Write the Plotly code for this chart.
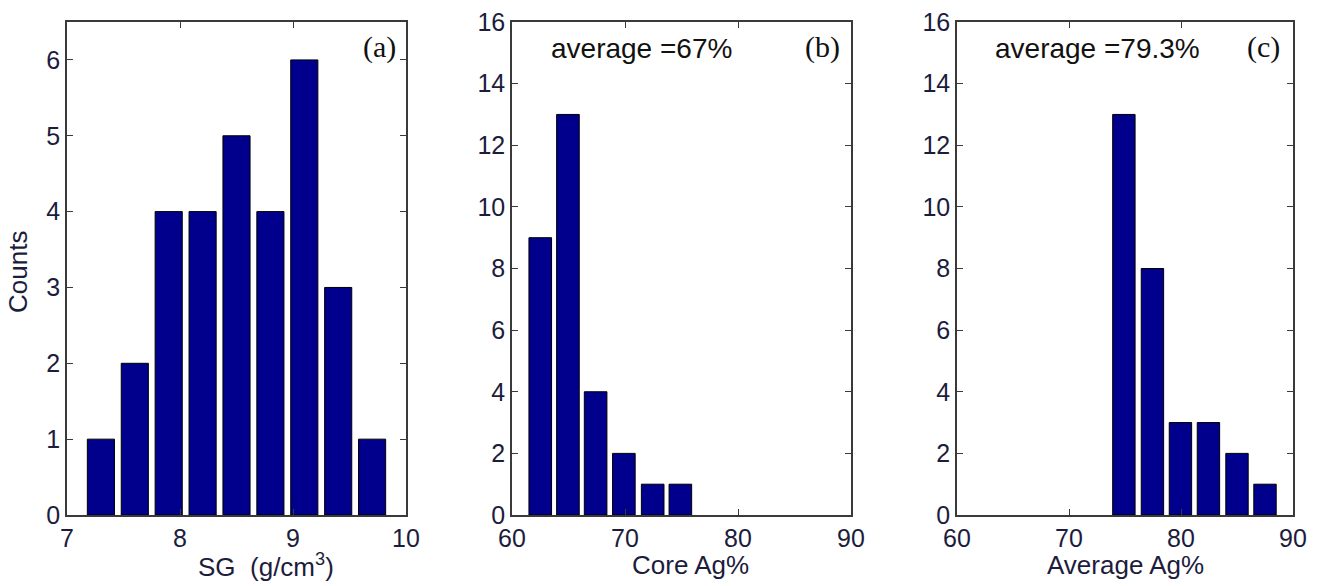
import plotly.graph_objects as go

W, H = 1325, 586

# ---- data ----
sg_centers = [7.3, 7.6, 7.9, 8.2, 8.5, 8.8, 9.1, 9.4, 9.7]
sg_counts = [1, 2, 4, 4, 5, 4, 6, 3, 1]

core_centers = [62.5, 64.95, 67.4, 69.9, 72.45, 74.9]
core_counts = [9, 13, 4, 2, 1, 1]

avg_centers = [74.9, 77.45, 79.95, 82.45, 85.0, 87.5]
avg_counts = [13, 8, 3, 3, 2, 1]

panel_labels = ["(a)", "(b)", "(c)"]
avg_texts = ["average =67%", "average =79.3%"]
x_titles = ["SG  (g/cm<sup>3</sup>)", "Core Ag%", "Average Ag%"]
y_title = "Counts"

BAR = "#00008c"
TXT = "#1c1c3c"
AX = "#3a3a3a"
SANS = "Arial, Liberation Sans, sans-serif"

def px_x(p):
    return p / W

def px_y(p):
    return 1 - p / H

fig = go.Figure()
for i, (xs, ys, w) in enumerate([(sg_centers, sg_counts, 0.24),
                                  (core_centers, core_counts, 2.0),
                                  (avg_centers, avg_counts, 2.0)]):
    sfx = "" if i == 0 else str(i + 1)
    fig.add_trace(go.Bar(x=xs, y=ys, width=w, xaxis="x" + sfx, yaxis="y" + sfx,
                         marker=dict(color=BAR, line=dict(color="black", width=1)),
                         showlegend=False))

TOP, BOT = 22, 515
ydom = [px_y(BOT), px_y(TOP)]
xpx = [(67, 406), (512, 851), (957, 1293)]
xdoms = [[px_x(a), px_x(b)] for a, b in xpx]

tickfont = dict(family=SANS, size=25, color=TXT)

common = dict(showline=True, mirror="ticks", linecolor=AX, linewidth=1.5,
              ticks="inside", ticklen=6, tickcolor=AX, tickwidth=1.2,
              showgrid=False, zeroline=False, tickfont=tickfont, automargin=False)

fig.update_layout(
    width=W, height=H,
    margin=dict(l=0, r=0, t=0, b=0),
    paper_bgcolor="white", plot_bgcolor="white",
    xaxis=dict(domain=xdoms[0], range=[7, 10], tickvals=[7, 8, 9, 10], anchor="y", **common),
    yaxis=dict(domain=ydom, range=[0, 6.5], tickvals=[0, 1, 2, 3, 4, 5, 6], anchor="x", **common),
    xaxis2=dict(domain=xdoms[1], range=[60, 90], tickvals=[60, 70, 80, 90], anchor="y2", **common),
    yaxis2=dict(domain=ydom, range=[0, 16], tickvals=list(range(0, 17, 2)), anchor="x2", **common),
    xaxis3=dict(domain=xdoms[2], range=[60, 90], tickvals=[60, 70, 80, 90], anchor="y3", **common),
    yaxis3=dict(domain=ydom, range=[0, 16], tickvals=list(range(0, 17, 2)), anchor="x3", **common),
)

# axis titles
x_title_centers = [266, 690, 1125]
for t, cx in zip(x_titles, x_title_centers):
    fig.add_annotation(text=t, xref="paper", yref="paper", x=px_x(cx), y=px_y(565),
                       xanchor="center", yanchor="middle", showarrow=False,
                       font=dict(family=SANS, size=26, color=TXT))
fig.add_annotation(text=y_title, xref="paper", yref="paper", x=px_x(18), y=px_y(272),
                   xanchor="center", yanchor="middle", showarrow=False, textangle=-90,
                   font=dict(family=SANS, size=26, color=TXT))

label_right = [398, 842, 1282]
for lab, xr in zip(panel_labels, label_right):
    fig.add_annotation(text=lab, xref="paper", yref="paper", x=px_x(xr), y=px_y(47),
                       xanchor="right", yanchor="middle", showarrow=False,
                       font=dict(family="Times New Roman, Liberation Serif, serif", size=30, color="#111"))

avg_centers_px = [641, 1097]
for t, cx in zip(avg_texts, avg_centers_px):
    fig.add_annotation(text=t, xref="paper", yref="paper", x=px_x(cx), y=px_y(48),
                       xanchor="center", yanchor="middle", showarrow=False,
                       font=dict(family=SANS, size=28, color="#111"))

fig.write_html("out.html", config={"displayModeBar": False},
               post_script="document.body.style.margin='0';document.body.style.overflow='hidden';")
